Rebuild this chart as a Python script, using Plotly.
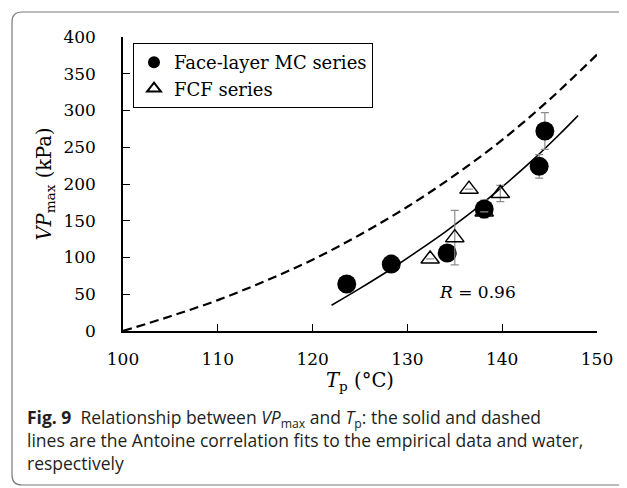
import plotly.graph_objects as go

# ---------------- data ----------------
mc_T = [123.6, 128.3, 134.2, 138.1, 143.9, 144.5]
mc_VP = [64, 91, 106, 166, 224, 272]
mc_err = [11, 5, 6, 12, 16, 25]

fcf_T = [132.4, 135.0, 136.5, 138.1, 139.8]
fcf_VP = [98, 127, 193, 162, 187]
fcf_err = [0, 37, 0, 0, 11]

fit_T = [122, 125, 128, 131, 134, 137, 140, 143, 146, 148]
fit_VP = [35, 58, 82, 108, 135, 164, 196, 230, 267, 293]

water_T = [100, 105, 110, 115, 120, 125, 130, 135, 140, 145, 150]
water_VP = [0, 20, 42, 68, 97, 131, 169, 212, 260, 315, 376]

x_ticks = [100, 110, 120, 130, 140, 150]
y_ticks = [0, 50, 100, 150, 200, 250, 300, 350, 400]

legend_names = ["Face-layer MC series", "FCF series"]
r_label = "<i>R</i> = 0.96"
caption_lines = [
    "<b>Fig. 9</b>\u00a0 Relationship between <i>VP</i><sub>max</sub> and <i>T</i><sub>p</sub>: the solid and dashed",
    "lines are the Antoine correlation fits to the empirical data and water,",
    "respectively",
]

# ---------------- layout geometry (screen pixels; page body adds 8px) ----------------
W, H = 627, 488
OFF = 8
L, T = 123 - OFF, 37 - OFF
PW, PH = 474, 294
R = W - L - PW
B = H - T - PH
SERIF = "DejaVu Serif"


def px(xs):
    return (xs - OFF - L) / PW


def py(ys):
    return (H - B - (ys - OFF)) / PH


fig = go.Figure()

fig.add_trace(go.Scatter(
    x=water_T, y=water_VP, mode="lines", line_shape="spline",
    line=dict(color="black", width=2.2, dash="9px,5px"), showlegend=False,
    hoverinfo="skip"))
fig.add_trace(go.Scatter(
    x=fit_T, y=fit_VP, mode="lines", line_shape="spline",
    line=dict(color="black", width=1.6), showlegend=False, hoverinfo="skip"))

fig.add_trace(go.Scatter(
    x=mc_T, y=mc_VP, mode="markers", name=legend_names[0],
    marker=dict(symbol="circle", size=19, color="black"),
    error_y=dict(type="data", array=mc_err, visible=True, color="#8c8c8c",
                 thickness=1.2, width=4)))
fig.add_trace(go.Scatter(
    x=fcf_T, y=fcf_VP, mode="markers", name=legend_names[1],
    marker=dict(symbol="triangle-up-open", size=16, color="black",
                line=dict(width=1.5, color="black")),
    error_y=dict(type="data", array=fcf_err, visible=True, color="#8c8c8c",
                 thickness=1.2, width=4)))

fig.add_annotation(x=137.4, y=53, xref="x", yref="y", text=r_label,
                   showarrow=False, font=dict(family=SERIF, size=17, color="black"))

# caption (one multi-line text block)
fig.add_annotation(x=px(25), y=py(403), xref="paper", yref="paper",
                   xanchor="left", yanchor="top", text="<br>".join(caption_lines),
                   showarrow=False, align="left",
                   font=dict(family="Open Sans", size=17.5, color="#231f20"))

# outer rounded frame
x0, x1, y0, y1, rad = 12, 650, 12, 485, 10
rx, ry = rad / PW, rad / PH
X0, X1, Y0, Y1 = px(x0), px(x1), py(y0), py(y1)
path = (f"M {X0+rx},{Y0} L {X1-rx},{Y0} Q {X1},{Y0} {X1},{Y0-ry} "
        f"L {X1},{Y1+ry} Q {X1},{Y1} {X1-rx},{Y1} L {X0+rx},{Y1} "
        f"Q {X0},{Y1} {X0},{Y1+ry} L {X0},{Y0-ry} Q {X0},{Y0} {X0+rx},{Y0} Z")
fig.add_shape(type="path", path=path, xref="paper", yref="paper",
              line=dict(color="#7a7a7a", width=1.2), layer="below")

axis_common = dict(
    showgrid=False, zeroline=False, showline=True, linecolor="black",
    linewidth=1.5, ticks="inside", ticklen=7, tickwidth=1.3, tickcolor="black",
    tickfont=dict(family=SERIF, size=17, color="black"),
)
fig.update_xaxes(range=[100, 150], tickvals=x_ticks, ticklabelstandoff=12,
                 title=dict(text="<i>T</i><sub>p</sub> (°C)", standoff=4,
                            font=dict(family=SERIF, size=19.5, color="black")),
                 **axis_common)
fig.update_yaxes(range=[0, 400], tickvals=y_ticks, ticklabelstandoff=22,
                 title=dict(text="<i>VP</i><sub>max</sub> (kPa)", standoff=7,
                            font=dict(family=SERIF, size=19.5, color="black")),
                 **axis_common)

fig.update_layout(
    width=W, height=H, margin=dict(l=L, r=R, t=T, b=B, autoexpand=False),
    paper_bgcolor="white", plot_bgcolor="white",
    legend=dict(x=px(133), y=py(43), xanchor="left", yanchor="top",
                bordercolor="black", borderwidth=1, bgcolor="white",
                itemsizing="constant", tracegroupgap=0,
                font=dict(family=SERIF, size=18, color="black")),
)

fig.write_html("out.html")
